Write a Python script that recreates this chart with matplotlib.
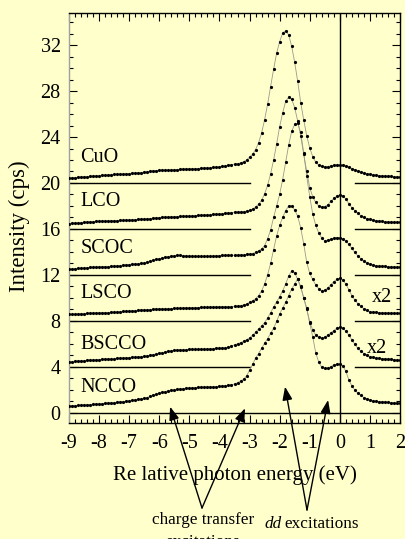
import numpy as np
import matplotlib
matplotlib.use("Agg")
import matplotlib.pyplot as plt
from matplotlib.ticker import MultipleLocator

plt.rcParams['font.family'] = ['Liberation Serif', 'DejaVu Serif']
plt.rcParams['axes.unicode_minus'] = False

# energy sampling (eV), -9.0 ... 2.0 in 0.1 steps
energy = np.round(np.linspace(-9.0, 2.0, 111), 1)

cuo = [20.43, 20.45, 20.47, 20.50, 20.52, 20.54, 20.56, 20.58, 20.60, 20.62,
       20.64, 20.66, 20.68, 20.70, 20.72, 20.74, 20.75, 20.77, 20.78, 20.80,
       20.82, 20.84, 20.86, 20.88, 20.90, 20.94, 20.98, 21.02, 21.05, 21.08,
       21.10, 21.11, 21.12, 21.13, 21.14, 21.15, 21.17, 21.19, 21.20, 21.21,
       21.22, 21.23, 21.24, 21.26, 21.28, 21.30, 21.31, 21.33, 21.35, 21.37,
       21.40, 21.44, 21.49, 21.55, 21.60, 21.64, 21.68, 21.74, 21.85, 22.00,
       22.25, 22.50, 22.90, 23.50, 24.35, 25.50, 26.85, 28.40, 29.90, 31.30,
       32.30, 33.05, 33.25, 32.90, 31.90, 30.50, 28.85, 27.00, 25.50, 24.10,
       23.05, 22.30, 21.80, 21.55, 21.45, 21.40, 21.42, 21.50, 21.55, 21.57,
       21.57, 21.53, 21.47, 21.38, 21.26, 21.15, 21.04, 20.95, 20.88, 20.82,
       20.76, 20.72, 20.68, 20.65, 20.63, 20.61, 20.59, 20.57, 20.55, 20.53,
       20.52]

lco = [16.47, 16.49, 16.51, 16.53, 16.55, 16.57, 16.59, 16.61, 16.63, 16.65,
       16.66, 16.68, 16.69, 16.70, 16.71, 16.72, 16.73, 16.74, 16.75, 16.77,
       16.78, 16.80, 16.81, 16.83, 16.84, 16.86, 16.88, 16.90, 16.93, 16.96,
       16.99, 17.00, 17.02, 17.03, 17.05, 17.06, 17.07, 17.09, 17.10, 17.12,
       17.13, 17.14, 17.16, 17.17, 17.19, 17.20, 17.22, 17.24, 17.26, 17.28,
       17.30, 17.32, 17.35, 17.38, 17.42, 17.45, 17.47, 17.48, 17.50, 17.55,
       17.62, 17.72, 17.90, 18.15, 18.50, 19.05, 19.80, 20.80, 22.00, 23.40,
       24.90, 26.10, 27.10, 27.48, 27.30, 26.55, 25.40, 24.10, 22.50, 21.00,
       19.60, 18.80, 18.30, 18.00, 17.90, 17.95, 18.10, 18.40, 18.65, 18.85,
       18.99, 18.90, 18.60, 18.20, 17.85, 17.60, 17.35, 17.15, 17.00, 16.90,
       16.82, 16.77, 16.73, 16.69, 16.66, 16.63, 16.61, 16.59, 16.58, 16.57,
       16.56]

scoc = [12.50, 12.52, 12.54, 12.56, 12.58, 12.60, 12.62, 12.64, 12.66, 12.68,
        12.69, 12.70, 12.71, 12.72, 12.73, 12.75, 12.78, 12.81, 12.84, 12.87,
        12.90, 12.93, 12.95, 12.97, 12.99, 13.03, 13.10, 13.18, 13.26, 13.34,
        13.40, 13.46, 13.52, 13.58, 13.63, 13.67, 13.70, 13.70, 13.68, 13.66,
        13.64, 13.62, 13.60, 13.60, 13.60, 13.60, 13.61, 13.62, 13.64, 13.66,
        13.68, 13.69, 13.70, 13.70, 13.70, 13.70, 13.70, 13.72, 13.74, 13.78,
        13.80, 13.85, 13.95, 14.10, 14.25, 14.55, 15.15, 15.90, 17.00, 18.00,
        19.00, 20.30, 21.80, 23.30, 24.50, 25.10, 25.20, 24.40, 22.60, 20.60,
        18.80, 17.30, 16.30, 15.65, 15.20, 14.96, 15.00, 15.10, 15.20, 15.25,
        15.25, 15.15, 14.95, 14.65, 14.30, 13.95, 13.65, 13.40, 13.20, 13.05,
        12.93, 12.86, 12.81, 12.77, 12.75, 12.73, 12.71, 12.70, 12.69, 12.68,
        12.67]

lsco = [8.55, 8.56, 8.58, 8.59, 8.61, 8.62, 8.64, 8.65, 8.67, 8.68,
        8.69, 8.70, 8.71, 8.72, 8.73, 8.75, 8.77, 8.79, 8.81, 8.83,
        8.85, 8.87, 8.89, 8.91, 8.93, 8.95, 8.97, 8.98, 9.00, 9.01,
        9.02, 9.03, 9.04, 9.05, 9.06, 9.07, 9.08, 9.09, 9.10, 9.11,
        9.12, 9.13, 9.14, 9.15, 9.16, 9.17, 9.18, 9.19, 9.20, 9.20,
        9.21, 9.21, 9.22, 9.22, 9.23, 9.25, 9.28, 9.32, 9.38, 9.45,
        9.60, 9.75, 9.92, 10.20, 10.60, 11.20, 12.00, 13.00, 14.20, 15.40,
        16.30, 17.00, 17.60, 18.00, 18.00, 17.65, 17.10, 16.10, 14.70, 13.10,
        12.12, 11.60, 11.10, 10.80, 10.60, 10.65, 10.85, 11.15, 11.40, 11.60,
        11.70, 11.55, 11.20, 10.70, 10.20, 9.80, 9.50, 9.25, 9.05, 8.90,
        8.80, 8.76, 8.73, 8.71, 8.70, 8.69, 8.68, 8.67, 8.66, 8.65,
        8.64]

bscco = [4.43, 4.45, 4.47, 4.49, 4.51, 4.53, 4.55, 4.57, 4.59, 4.61,
         4.62, 4.64, 4.66, 4.67, 4.68, 4.70, 4.72, 4.74, 4.76, 4.78,
         4.79, 4.81, 4.83, 4.85, 4.87, 4.90, 4.95, 5.00, 5.06, 5.11,
         5.16, 5.22, 5.28, 5.34, 5.38, 5.42, 5.45, 5.47, 5.48, 5.49,
         5.50, 5.50, 5.51, 5.51, 5.52, 5.52, 5.53, 5.55, 5.57, 5.59,
         5.61, 5.63, 5.65, 5.72, 5.80, 5.90, 6.00, 6.10, 6.20, 6.35,
         6.50, 6.75, 7.00, 7.30, 7.55, 7.85, 8.25, 8.70, 9.20, 9.65,
         10.10, 10.60, 11.20, 11.90, 12.35, 12.20, 11.60, 10.90, 10.00, 9.00,
         7.90, 7.20, 6.75, 6.55, 6.50, 6.55, 6.75, 6.95, 7.15, 7.35,
         7.45, 7.35, 7.10, 6.75, 6.35, 5.95, 5.60, 5.35, 5.15, 5.00,
         4.88, 4.81, 4.76, 4.73, 4.71, 4.69, 4.67, 4.65, 4.62, 4.60,
         4.58]

ncco = [0.58, 0.60, 0.62, 0.64, 0.66, 0.67, 0.69, 0.71, 0.73, 0.75,
        0.77, 0.79, 0.81, 0.83, 0.85, 0.87, 0.90, 0.93, 0.96, 1.00,
        1.03, 1.07, 1.11, 1.15, 1.19, 1.24, 1.32, 1.41, 1.50, 1.60,
        1.69, 1.77, 1.84, 1.90, 1.95, 1.99, 2.02, 2.05, 2.08, 2.11,
        2.14, 2.16, 2.18, 2.20, 2.21, 2.22, 2.23, 2.24, 2.25, 2.26,
        2.30, 2.32, 2.35, 2.38, 2.42, 2.50, 2.60, 2.75, 2.90, 3.20,
        3.70, 4.20, 4.75, 5.15, 5.60, 6.05, 6.45, 6.90, 7.35, 7.95,
        8.60, 9.10, 9.60, 10.20, 10.75, 11.20, 11.65, 11.00, 10.00, 9.10,
        7.77, 6.60, 5.20, 4.40, 3.95, 3.85, 3.88, 4.00, 4.15, 4.22,
        4.23, 4.10, 3.60, 2.85, 2.35, 1.95, 1.70, 1.50, 1.32, 1.20,
        1.10, 1.05, 1.00, 0.97, 0.95, 0.93, 0.90, 0.88, 0.86, 0.84,
        0.82]

names = ["CuO", "LCO", "SCOC", "LSCO", "BSCCO", "NCCO"]
offsets = [20, 16, 12, 8, 4, 0]
series = [cuo, lco, scoc, lsco, bscco, ncco]
label_y = [22.2, 18.35, 14.3, 10.4, 5.9, 2.15]
scale_notes = [("x2", 1.06, 10.0), ("x2", 0.89, 5.6)]

bg = "#ffffcc"
W, H = 405, 539
fig = plt.figure(figsize=(W / 100, H / 100), dpi=100, facecolor=bg)
ax = fig.add_axes([69 / W, 1 - 423 / H, 331 / W, 410 / H], facecolor=bg)

# baselines
for off in offsets:
    if off == 0:
        ax.plot([-9, 2], [off, off], color="black", lw=1.0, zorder=1)
    else:
        ax.plot([-9, -3], [off, off], color="black", lw=1.0, zorder=1)
        ax.plot([0.5, 2], [off, off], color="black", lw=1.0, zorder=1)

ax.axvline(0, color="black", lw=1.0, zorder=1)

for ys in series:
    assert len(ys) == len(energy)
    ax.plot(energy, ys, color="#9a9a8a", lw=0.6, zorder=2)
    ax.plot(energy, ys, ls="none", marker="o", ms=2.3, mfc="black",
            mec="black", mew=0, zorder=3)

for name, ly in zip(names, label_y):
    ax.text(-8.63, ly, name, fontsize=14.5, va="center", ha="left")

for txt, sx, sy in scale_notes:
    ax.text(sx, sy, txt, fontsize=14.5, va="center", ha="left")

ax.set_xlim(-9, 2)
ax.set_ylim(-0.9, 34.8)
ax.set_xticks(range(-9, 3))
ax.set_yticks(range(0, 33, 4))
ax.xaxis.set_minor_locator(MultipleLocator(0.2))
ax.yaxis.set_minor_locator(MultipleLocator(1))
ax.tick_params(which="both", direction="in", top=True, right=True,
               width=0.8, labelsize=14.5)
ax.tick_params(which="major", length=6)
ax.tick_params(which="minor", length=3)
ax.tick_params(axis="x", pad=8)
ax.tick_params(axis="y", pad=6)
for s in ax.spines.values():
    s.set_linewidth(1.0)
ax.spines["left"].set_color("#a0a0a0")

ax.set_xlabel("Re lative photon energy (eV)", fontsize=15, labelpad=9)
fig.text(19 / W, 1 - 226 / H, "Intensity (cps)", rotation=90,
         fontsize=16.5, ha="center", va="center")

# annotation arrows (arrow tips in data coordinates)
ct_apex = (202, H - 508)
dd_apex = (307, H - 510)
ct_tips = [(-5.64, 0.52), (-3.15, 0.38)]
dd_tips = [(-1.82, 2.26), (-0.39, 1.1)]
for apex, tips in [(ct_apex, ct_tips), (dd_apex, dd_tips)]:
    for tip in tips:
        ax.annotate("", xy=tip, xycoords="data", xytext=apex,
                    textcoords="figure pixels", annotation_clip=False,
                    arrowprops=dict(arrowstyle="-|>,head_length=0.8,head_width=0.3",
                                    color="black", lw=1.0,
                                    shrinkA=0, shrinkB=0))

fig.text(203 / W, 1 - 520 / H, "charge transfer", fontsize=12.3,
         ha="center", va="center")
fig.text(203 / W, 1 - 542 / H, "excitations", fontsize=12.3,
         ha="center", va="center")
fig.text(282 / W, 1 - 524 / H, "dd", fontsize=12.3, style="italic",
         ha="right", va="center")
fig.text(284 / W, 1 - 524 / H, "excitations", fontsize=12.3,
         ha="left", va="center")

fig.savefig("out.png", dpi=100, facecolor=bg)
